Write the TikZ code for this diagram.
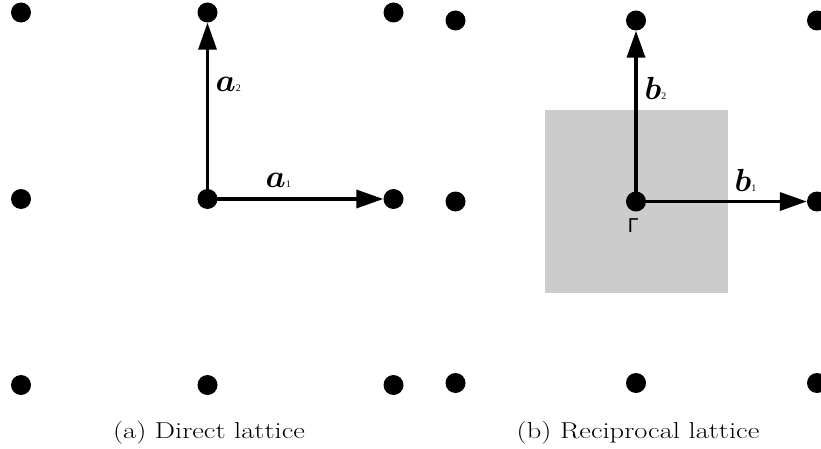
\RequirePackage{fix-cm}
\documentclass[tikz,border=0pt]{standalone}
\usepackage{amsmath}
\usepackage{fontspec}
\usetikzlibrary{arrows.meta}
\newfontfamily\lblfont{Liberation Serif}
\newfontfamily\gamfont{DejaVu Sans}
\definecolor{bzgray}{RGB}{204,204,204}
\tikzset{
  dot/.style={circle,fill=black,inner sep=0pt,minimum size=20pt},
  vec/.style={line width=3.5pt,-{Triangle[length=27pt,width=18pt]}},
  veclabel/.style={anchor=base west,inner sep=0pt},
  caption/.style={anchor=base,inner sep=0pt,font=\fontsize{23}{27}\selectfont}
}
\newcommand{\veclbl}[2]{{\fontsize{32}{36}\selectfont$\boldsymbol{#1}$}{\fontsize{10}{11}\selectfont\lblfont #2}}
\begin{document}
\begin{tikzpicture}[x=1pt,y=-1pt]
\useasboundingbox (0,0) rectangle (821,449);
% Brillouin zone
\fill[bzgray] (545,110) rectangle (728,293);
% direct lattice
\foreach \i/\x in {0/21,1/207.5,2/393.5}{
  \foreach \j/\y in {0/12.5,1/199,2/385}{
    \node[dot] (A\i\j) at (\x,\y) {};
  }
}
\draw[vec] (A11.center) -- (A21);
\draw[vec] (A11.center) -- (A10);
\node[veclabel] (la2) at (215.5,92) {\veclbl{a}{2}};
\node[veclabel] (la1) at (265.5,187) {\veclbl{a}{1}};
% reciprocal lattice
\foreach \i/\x in {0/455.5,1/636,2/817}{
  \foreach \j/\y in {0/20.5,1/201.5,2/383}{
    \node[dot] (B\i\j) at (\x,\y) {};
  }
}
\draw[vec] (B11.center) -- (B21);
\draw[vec] (B11.center) -- (B10);
\node[veclabel] (lb2) at (644.5,100) {\veclbl{b}{2}};
\node[veclabel] (lb1) at (734.5,192) {\veclbl{b}{1}};
\node[inner sep=0pt,font=\gamfont\fontsize{19}{22}\selectfont] (gam) at (633,225.5) {Γ};
% captions
\node[caption] (capa) at (209,438) {\scalebox{1.24}[1]{(a) Direct lattice}};
\node[caption] (capb) at (638,438) {\scalebox{1.24}[1]{(b) Reciprocal lattice}};
\end{tikzpicture}
\end{document}
